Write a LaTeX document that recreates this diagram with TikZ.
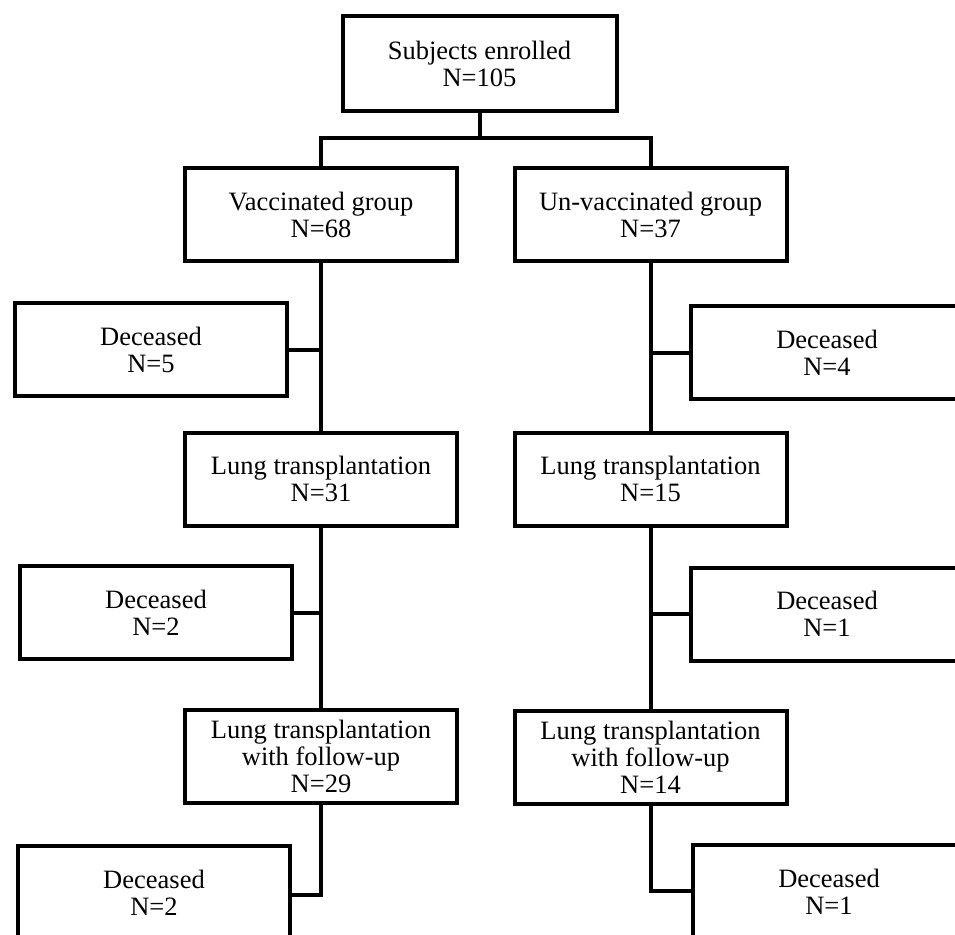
\documentclass[tikz,border=0pt]{standalone}
\usepackage{fontspec}
\setmainfont{Liberation Serif}

\begin{document}
\begin{tikzpicture}[x=1pt, y=-1pt,
  box/.style={draw, line width=4pt, minimum width=272pt, minimum height=93pt,
    inner sep=2pt, align=center, font=\fontsize{26.5}{27}\selectfont},
  link/.style={line width=4pt}]

% Cornice dell'immagine
\useasboundingbox (0,0) rectangle (955,934);
\clip (0,0) rectangle (955,934);

% Riquadro iniziale
\node[box, minimum width=274pt, minimum height=95pt] (enrol) at (479.5,63.5) {Subjects enrolled\\N=105};
\coordinate (split) at (479.5,138);

% Gruppi
\node[box] (vac)   at (321,214.5)   {Vaccinated group\\N=68};
\node[box] (unvac) at (650.5,214.5) {Un-vaccinated group\\N=37};

% Trapianto
\node[box] (lungL) at (321,479)   {Lung transplantation\\N=31};
\node[box] (lungR) at (650.5,479) {Lung transplantation\\N=15};

% Follow-up
\node[box] (fuL) at (321,756.5)   {Lung transplantation\\with follow-up\\N=29};
\node[box] (fuR) at (650.5,757.5) {Lung transplantation\\with follow-up\\N=14};

% Deceduti - sinistra
\node[box] (decA) at (151,349.5) {Deceased\\N=5};
\node[box] (decB) at (156,612.5) {Deceased\\N=2};
\node[box] (decC) at (154,892.5) {Deceased\\N=2};

% Deceduti - destra
\node[box] (decD) at (827,352.5) {Deceased\\N=4};
\node[box] (decE) at (827,614)   {Deceased\\N=1};
\node[box] (decF) at (829,891.5) {Deceased\\N=1};

% Collegamenti
\draw[link] (enrol.south) -- (split);
\draw[link] (vac.north) |- (split) -| (unvac.north);

\draw[link] (vac.south) -- (lungL.north);
\draw[link] (lungL.south) -- (fuL.north);
\draw[link] (decA.east) -- (decA.east -| vac.south);
\draw[link] (decB.east) -- (decB.east -| lungL.south);
\draw[link] (fuL.south) |- ([yshift=-2.5pt]decC.east);

\draw[link] (unvac.south) -- (lungR.north);
\draw[link] (lungR.south) -- (fuR.north);
\draw[link] (decD.west) -- (decD.west -| unvac.south);
\draw[link] (decE.west) -- (decE.west -| lungR.south);
\draw[link] (fuR.south) |- ([yshift=0.5pt]decF.west);

\end{tikzpicture}
\end{document}
